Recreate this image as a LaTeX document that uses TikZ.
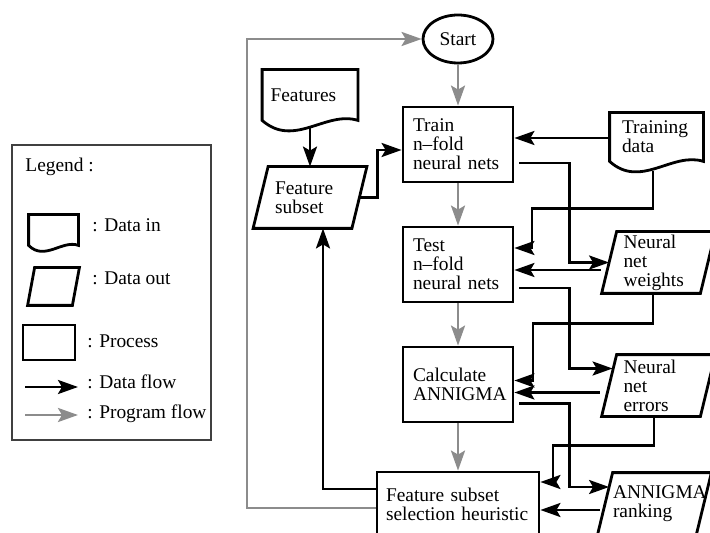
\documentclass[tikz,border=0pt]{standalone}
\usepackage{fontspec}
\setmainfont{Liberation Serif}
\usetikzlibrary{arrows.meta,positioning,shapes.geometric}
\definecolor{progray}{RGB}{140,140,140}
% document shape with a wavy bottom, drawn round a node
\newcommand{\docshape}[4]{%
  \draw[shp] (#1.south east) -- (#1.north east) -- (#1.north west) -- (#1.south west)
    .. controls +(#2,#3) and +(-#2,-#4) .. (#1.south east) -- cycle;}
% slanted box (data out), drawn round a node
\newcommand{\slantshape}[2]{%
  \draw[shp] ([xshift=#2]#1.north west) -- ([xshift=#2]#1.north east)
    -- ([xshift=-#2]#1.south east) -- ([xshift=-#2]#1.south west) -- cycle;}

\begin{document}
\begin{tikzpicture}[x=0.5pt, y=-0.5pt, >={Stealth[length=10pt,width=7pt,inset=2pt]},
  font={\fontsize{9.7pt}{9.5pt}\selectfont},
  shp/.style={line width=1.4pt},
  proc/.style={draw, shp, minimum width=55pt, minimum height=37.5pt, text width=45pt,
    inner xsep=5pt, inner ysep=0pt, align=left},
  datain/.style={inner xsep=4pt, inner ysep=0pt, align=left},
  dataout/.style={minimum width=49pt, minimum height=30.5pt, text width=35pt,
    inner xsep=7pt, inner ysep=0pt, align=left},
  data/.style={line width=1.4pt, ->},
  prog/.style={line width=1.4pt, progray, ->},
  lbl/.style={anchor=base west, inner sep=0pt}]
\useasboundingbox (0,0) rectangle (710,533);
\clip (0,0) rectangle (710,533);

% legend
\draw[line width=0.6pt, black!75] (12,145) rectangle (211,440);
\node[lbl] (legtitle) at (25,172) {Legend :};
\node[datain, minimum width=24.5pt, minimum height=15pt] (ldin) at (53.5,230) {};
\docshape{ldin}{16}{16}{6}
\node[lbl] (ldintxt) at (92,232) {: Data in};
\node[dataout, minimum width=22pt, minimum height=18.5pt, text width=2pt, inner xsep=0pt] (ldout) at (53.5,286.5) {};
\slantshape{ldout}{1.75pt}
\node[lbl] (ldouttxt) at (92,285) {: Data out};
\node[proc, minimum width=26pt, minimum height=17.5pt, text width=5pt] (lproc) at (49,342.5) {};
\node[lbl] (lproctxt) at (87,348) {: Process};
\coordinate (dfa) at (25,387);
\coordinate (dfb) at (78,387);
\draw[data] (dfa) -- (dfb);
\node[lbl] (ldftxt) at (87,388) {: Data flow};
\coordinate (pfa) at (25,415);
\coordinate (pfb) at (78,415);
\draw[prog] (pfa) -- (pfb);
\node[lbl] (lpftxt) at (87,418) {: Program flow};

% process column
\node[ellipse, draw, shp, minimum width=35pt, minimum height=24pt, inner sep=0pt] (start) at (458,39) {Start};
\node[proc] (train) at (458,144.5) {Train\\n--fold\\neural nets};
\node[proc] (test) at (458,264.5) {Test\\n--fold\\neural nets};
\node[proc] (calc) at (458,384.5) {Calculate\\ANNIGMA};
\node[proc, minimum width=81pt, minimum height=32pt, text width=72pt,
  inner xsep=4.5pt] (heur) at (458,504) {Feature subset\\selection heuristic};

% data in / data out
\node[datain, minimum width=47.5pt, minimum height=25pt, text width=39.5pt] (feat) at (310,95) {Features};
\docshape{feat}{32}{28}{10}
\node[datain, minimum width=46.5pt, minimum height=24pt, text width=34.5pt, inner xsep=6pt] (trdata) at (656.5,137) {Training\\data};
\docshape{trdata}{31}{28}{10}
\node[dataout] (fsub) at (310,197.5) {Feature\\subset};
\slantshape{fsub}{3.75pt}
\node[dataout] (nnw) at (658.5,262.5) {Neural\\net\\weights};
\slantshape{nnw}{3.75pt}
\node[dataout] (nne) at (658.5,385.5) {Neural\\net\\errors};
\slantshape{nne}{3.75pt}
\node[dataout, text width=41.5pt, inner xsep=3.75pt] (rank) at (654.5,503.5) {ANNIGMA\\ranking};
\slantshape{rank}{3.75pt}

% program flow
\draw[prog] (start) -- (train);
\draw[prog] (train) -- (test);
\draw[prog] (test) -- (calc);
\draw[prog] (calc) -- (heur);
\coordinate (back) at (247,300);
\draw[prog] ([yshift=-2pt]heur.west) -| (back) |- (start);

% data flow
\draw[data] ([yshift=-3pt]feat.south) -- (fsub.north);
\draw[data] (fsub.east) -- ++(18,0) |- ([yshift=-2.75pt]train.west);
\draw[data] ([yshift=7.5pt]heur.west) -| ([xshift=6.5pt]fsub.south);
\draw[data] ([yshift=-0.5pt]trdata.west) -- ([yshift=3.25pt]train.east);
\draw[data] ([xshift=2.5pt,yshift=-9.25pt]train.east) -- ++(50,0) |- (nnw.west);
\draw[data] ([xshift=-1.75pt,yshift=-5pt]trdata.south) |- ++(-121,37) |- ([yshift=8.25pt]test.east);
\draw[data] ([xshift=-4pt,yshift=-3.75pt]nnw.west) -- ([yshift=-2.75pt]test.east);
\draw[data] ([xshift=2.5pt,yshift=-11.75pt]test.east) -- ++(50,0) |- ([xshift=1.75pt,yshift=8.5pt]nne.west);
\draw[data] ([xshift=-2.75pt]nnw.south) |- ++(-120,30) |- ([yshift=2pt]calc.east);
\draw[data] ([xshift=-4.75pt,yshift=-3.5pt]nne.west) -- ([yshift=-4pt]calc.east);
\draw[data] ([xshift=2.5pt,yshift=-9.5pt]calc.east) -- ++(50,0) |- ([xshift=2pt,yshift=8.25pt]rank.west);
\draw[data] ([xshift=-2.25pt]nne.south) |- ++(-101,29) |- ([yshift=11pt]heur.east);
\draw[data] ([xshift=-2.75pt,yshift=-3.25pt]rank.west) -- ([yshift=-3pt]heur.east);
\end{tikzpicture}
\end{document}
